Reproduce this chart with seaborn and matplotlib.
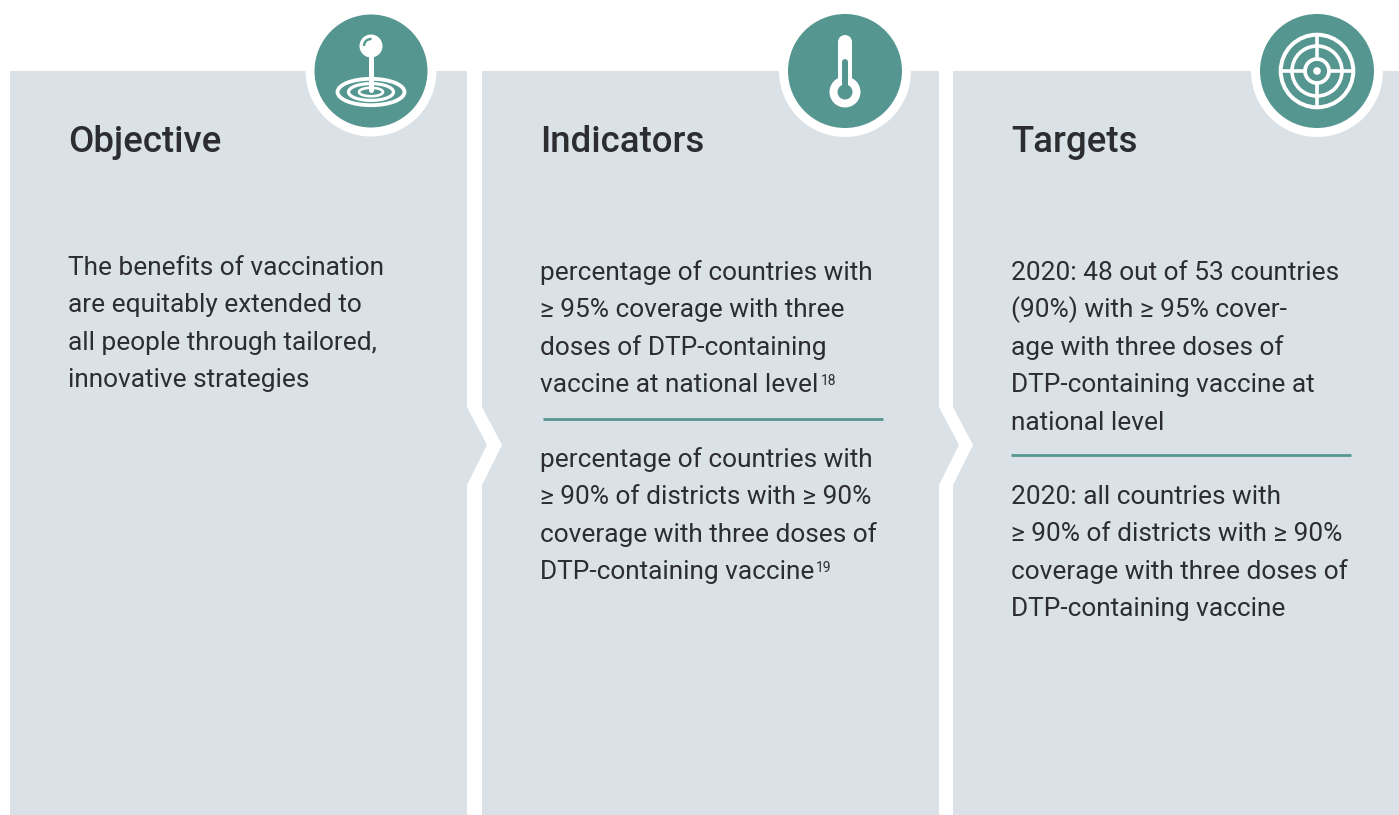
import seaborn as sns
import matplotlib.pyplot as plt
from matplotlib.patches import Rectangle, Circle, Ellipse, Polygon, Arc

sns.set_theme(style="white")
plt.rcParams["font.family"] = ["Roboto", "DejaVu Sans"]

titles = ["Objective", "Indicators", "Targets"]
objective_lines = [
    "The benefits of vaccination",
    "are equitably extended to",
    "all people through tailored,",
    "innovative strategies",
]
indicator_lines_a = [
    "percentage of countries with",
    "≥ 95% coverage with three",
    "doses of DTP-containing",
    "vaccine at national level",
]
indicator_lines_b = [
    "percentage of countries with",
    "≥ 90% of districts with ≥ 90%",
    "coverage with three doses of",
    "DTP-containing vaccine",
]
target_lines_a = [
    "2020: 48 out of 53 countries",
    "(90%) with ≥ 95% cover-",
    "age with three doses of",
    "DTP-containing vaccine at",
    "national level",
]
target_lines_b = [
    "2020: all countries with",
    "≥ 90% of districts with ≥ 90%",
    "coverage with three doses of",
    "DTP-containing vaccine",
]

PANEL = "#dbe2e7"
TEAL = "#559691"
INK = "#2b2d30"
LEAD = 37.4
px = 0.72  # pixels to points at dpi 100

fig = plt.figure(figsize=(13.99, 8.15), dpi=100)
ax = fig.add_axes([0, 0, 1, 1])
ax.set_xlim(0, 1399)
ax.set_ylim(815, 0)
ax.axis("off")

# panels
for left, right in [(10, 467), (482, 939), (953, 1399)]:
    ax.add_patch(Rectangle((left, 71), right - left, 744, fc=PANEL, ec="none"))

# chevrons between the panels: a grey tab over a white one
for x0, x1 in [(467, 482), (939, 953)]:
    ax.add_patch(Polygon([(x1, 407), (x1 + 20, 445), (x1, 485)], fc="white", ec="none", zorder=2))
    ax.add_patch(Polygon([(x0, 407), (x0 + 20, 445), (x0, 485)], fc=PANEL, ec="none", zorder=2))


def block(x, y, lines):
    for i, line in enumerate(lines):
        ax.text(x, y + i * LEAD, line, fontsize=18.9, color=INK, va="baseline", ha="left")


for x, t in zip([68, 540, 1011], titles):
    ax.text(x, 152, t, fontsize=26.4, color=INK, va="baseline", ha="left", fontweight="medium")

block(68.5, 275, objective_lines)
block(540, 280, indicator_lines_a)
block(540, 467, indicator_lines_b)
block(1011, 280, target_lines_a)
block(1011, 504, target_lines_b)

# footnote marks
ax.text(821, 385, "18", fontsize=10, color=INK, va="baseline")
ax.text(816, 572, "19", fontsize=10, color=INK, va="baseline")

# rules
ax.plot([543, 883], [418.5, 418.5], color=TEAL, lw=2, solid_capstyle="butt")
ax.plot([1011, 1351], [454.5, 454.5], color=TEAL, lw=2, solid_capstyle="butt")

# icon discs
for cx, r in [(371, 56.5), (845, 57), (1317, 57)]:
    ax.add_patch(Circle((cx, 71), r + 9, fc="white", ec="none", zorder=3))
    ax.add_patch(Circle((cx, 71), r, fc=TEAL, ec="none", zorder=4))

# pin icon
ax.plot([371, 371], [50, 90], color="white", lw=5 * px, solid_capstyle="round", zorder=6)
ax.add_patch(Circle((371, 46), 11.5, fc="white", ec="none", zorder=6))
ax.add_patch(Arc((371, 46), 14, 14, theta1=180, theta2=275, ec=TEAL, lw=2.4 * px, zorder=7))
for rx, ry, lw in [(33.5, 13.2, 3.8), (22.5, 8.4, 3.2), (12, 4.2, 2.6)]:
    ax.add_patch(Ellipse((371, 92), 2 * rx, 2 * ry, fc="none", ec="white", lw=lw * px, zorder=5))

# thermometer icon
ax.add_patch(Rectangle((838, 42), 14, 40, fc="white", ec="none", zorder=5))
ax.add_patch(Circle((845, 42), 7, fc="white", ec="none", zorder=5))
ax.add_patch(Circle((845, 92), 15.5, fc="white", ec="none", zorder=5))
ax.add_patch(Circle((845, 92), 7.5, fc=TEAL, ec="none", zorder=6))
ax.plot([845, 845], [62, 90], color=TEAL, lw=6 * px, solid_capstyle="round", zorder=6)

# target icon
for r, lw in [(36.3, 4), (25, 3.6), (12, 3.8)]:
    ax.add_patch(Circle((1317, 71), r, fc="none", ec="white", lw=lw * px, zorder=5))
ax.add_patch(Circle((1317, 71), 3.8, fc="white", ec="none", zorder=5))
for a, b in [((1317, 33), (1317, 59)), ((1317, 83), (1317, 109)),
             ((1279, 71), (1305, 71)), ((1329, 71), (1355, 71))]:
    ax.plot([a[0], b[0]], [a[1], b[1]], color="white", lw=3.6 * px, solid_capstyle="butt", zorder=5)

fig.savefig("out.png", dpi=100, facecolor="white")
